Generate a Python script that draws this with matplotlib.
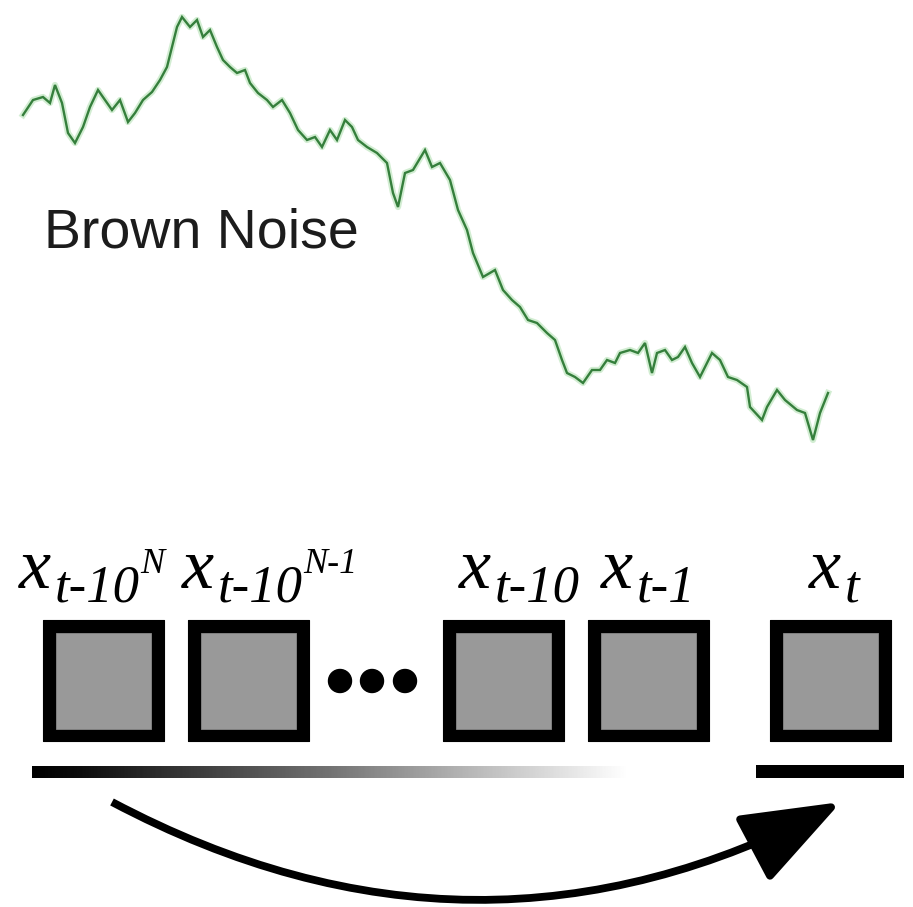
import matplotlib
matplotlib.use("Agg")
import matplotlib.pyplot as plt
import numpy as np
from matplotlib.patches import Rectangle, Circle, FancyArrowPatch, ArrowStyle

# ---- data: brown-noise trace (x position, level) ----
noise_x = [23, 33, 43, 50, 55, 62, 68, 75, 83, 90, 98, 105, 112, 120, 128, 135,
           143, 152, 160, 167, 172, 177, 182, 190, 197, 203, 210, 217, 223, 230,
           237, 245, 250, 258, 267, 273, 282, 290, 298, 307, 315, 322, 330, 337,
           345, 352, 358, 367, 377, 387, 393, 398, 405, 413, 425, 432, 440, 450,
           458, 467, 473, 483, 495, 503, 512, 520, 528, 537, 547, 555, 562, 567,
           575, 583, 592, 600, 607, 615, 620, 630, 638, 645, 652, 657, 665, 672,
           678, 685, 692, 700, 705, 712, 720, 728, 737, 747, 750, 762, 767, 777,
           785, 797, 805, 813, 820, 828]
noise_y = [115, 100, 97, 103, 85, 103, 133, 143, 127, 107, 90, 100, 110, 100, 122, 113,
           100, 92, 80, 67, 47, 27, 17, 27, 20, 37, 30, 47, 60, 67,
           73, 70, 83, 93, 100, 107, 100, 113, 130, 140, 137, 147, 130, 140,
           120, 127, 140, 147, 153, 163, 193, 207, 173, 170, 150, 167, 163, 180,
           210, 230, 253, 277, 270, 290, 300, 307, 320, 323, 333, 340, 360, 373,
           377, 383, 370, 370, 360, 363, 353, 350, 353, 343, 373, 353, 350, 360,
           357, 347, 363, 377, 367, 353, 360, 377, 380, 387, 407, 420, 407, 390,
           400, 410, 413, 440, 413, 393]

title_text = "Brown Noise"

# ---- data: lag boxes and their labels ----
box_main = ["x", "x", "x", "x", "x"]
box_sub = ["t-10", "t-10", "t-10", "t-1", "t"]
box_sup = ["N", "N-1", "", "", ""]
n_dots = 3

# ---- layout (pixel coordinates of the 913x907 canvas) ----
W, H = 913, 907
fig = plt.figure(figsize=(W / 100, H / 100), dpi=100)
ax = fig.add_axes([0, 0, 1, 1])
ax.set_xlim(0, W)
ax.set_ylim(H, 0)
ax.axis("off")

# noise trace
ax.plot(noise_x, noise_y, color="#a6dca6", lw=4.5, alpha=0.5,
        solid_joinstyle="round", zorder=2)
ax.plot(noise_x, noise_y, color="#357f3c", lw=1.7,
        solid_joinstyle="miter", zorder=3)

ax.text(44, 248, title_text, fontsize=40, family="Liberation Sans",
        color="#1c1c1c", ha="left", va="baseline")

# boxes
box_left = [43, 188, 443, 588, 770]
box_top, box_w, box_h, border = 620, 121, 121, 12
for x0 in box_left:
    ax.add_patch(Rectangle((x0, box_top), box_w, box_h, facecolor="black",
                           edgecolor="black", lw=0.8, joinstyle="round", zorder=4))
    ax.add_patch(Rectangle((x0 + border + 1, box_top + border + 1),
                           box_w - 2 * border - 2, box_h - 2 * border - 1,
                           facecolor="#999999", edgecolor="#888888", lw=0.6, zorder=5))

# ellipsis dots
dot_x = [340, 372, 405]
for i in range(n_dots):
    ax.add_patch(Circle((dot_x[i], 681), 11.5, color="black", zorder=4))

# labels (pieces placed one after another)
fig.canvas.draw()
renderer = fig.canvas.get_renderer()
label_left = [19, 182, 459, 601, 809]
serif_it = dict(family="Liberation Serif", style="italic", color="black")


def place(x, y, s, size):
    t = ax.text(x, y, s, fontsize=size, ha="left", va="baseline", zorder=6, **serif_it)
    bb = t.get_window_extent(renderer)
    return x + bb.width


for i in range(len(box_main)):
    x = label_left[i]
    x = place(x, 588, box_main[i], 52)
    x = place(x + 4, 602, box_sub[i], 38)
    if box_sup[i]:
        place(x, 573, box_sup[i], 26)

# gradient bar
grad_x = np.linspace(0, 1, 400)
stops_x = [0.0, 0.08, 0.5, 0.72, 1.0]
stops_v = [0.0, 0.05, 0.45, 0.70, 1.0]
grad = np.interp(grad_x, stops_x, stops_v)[None, :]
ax.imshow(grad, cmap="gray", vmin=0, vmax=1, aspect="auto",
          extent=[32, 628, 778, 766], interpolation="bilinear", zorder=3)
ax.add_patch(Rectangle((756, 765), 148, 13, facecolor="black", edgecolor="none", zorder=3))

# curved arrow
arrow = FancyArrowPatch((112, 802), (841, 802),
                        connectionstyle="arc3,rad=0.265",
                        arrowstyle=ArrowStyle("-|>", head_length=62, head_width=23),
                        mutation_scale=1, lw=5.6, color="black",
                        shrinkA=0, shrinkB=0, capstyle="butt", zorder=4)
ax.add_patch(arrow)

ax.set_xlim(0, W)
ax.set_ylim(H, 0)
fig.savefig("out.png", dpi=100, facecolor="white")
